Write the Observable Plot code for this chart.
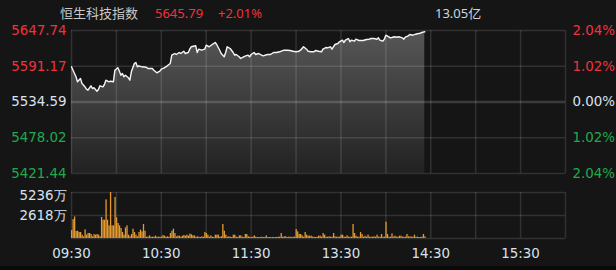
<!DOCTYPE html>
<html><head><meta charset="utf-8">
<script src="https://cdn.jsdelivr.net/npm/d3@7"></script>
<script src="https://cdn.jsdelivr.net/npm/@observablehq/plot@0.6"></script>
<style>
html,body{margin:0;padding:0;background:#151515;}
#wrap{position:relative;width:616px;height:270px;overflow:hidden;background:#151515;}
.hdr{position:absolute;top:3px;font-size:13px;font-family:"Noto Sans","Noto Sans CJK SC",sans-serif;white-space:nowrap;line-height:20px;}
#price,#vol{position:absolute;left:0;}
#price{top:0;}
#vol{top:180px;}
#bottom{position:absolute;left:0;top:266px;width:616px;height:4px;background:#0a0a0a;}
svg{overflow:visible;}
</style></head><body>
<div id="wrap">
  <div class="hdr" id="hName" style="left:60px;color:#c9c9c9"></div>
  <div class="hdr" id="hPrice" style="left:155px;color:#f0323c"></div>
  <div class="hdr" id="hChg" style="left:218px;color:#f0323c"></div>
  <div class="hdr" id="hTurn" style="left:435px;color:#cfd6de"></div>
  <div id="price"></div>
  <div id="vol"></div>
  <div id="bottom"></div>
</div>
<script>
// ---- data ----
const indexName = "恒生科技指数";
const lastPrice = "5645.79";
const changePct = "+2.01%";
const turnover = "13.05亿";
const prevClose = 5534.59;
const priceTicks = [5647.74, 5591.17, 5534.59, 5478.02, 5421.44];
const pctLabels = ["2.04%", "1.02%", "0.00%", "1.02%", "2.04%"];
const timeTicks = [0, 60, 120, 180, 240, 300];
const timeLabels = ["09:30", "10:30", "11:30", "13:30", "14:30", "15:30"];
const gridMinutes = [0, 30, 60, 90, 120, 150, 180, 210, 240, 270, 300, 330];
const volTicks = [5236, 2618];
const volLabels = ["5236万", "2618万"];

// trading minute since 09:30 (lunch break removed)
const minutes = [
  0,1,3,4,6,7,9,10,11,13,
  14,15,17,18,19,21,22,23,25,26,
  28,29,31,32,33,34,35,36,38,39,
  40,42,43,44,45,47,50,51,54,55,
  57,59,60,62,64,66,67,69,70,72,
  73,75,76,78,79,80,83,84,85,87,
  89,90,92,94,96,97,99,100,102,103,
  104,106,108,109,110,112,113,115,116,118,
  119,120,122,123,125,127,128,131,133,135,
  137,139,142,144,146,148,150,152,153,155,
  157,158,160,162,163,165,167,168,170,171,
  173,174,175,176,178,179,181,182,183,185,
  186,187,189,190,192,194,195,197,199,200,
  202,204,205,206,208,209,210,212,213,214,
  216,217,219,221,222,223,225,226,228,230,
  231,233,234,235,236
];
const prices = [
  5590.30,5584.91,5574.47,5566.56,5571.78,5563.87,5558.64,5554.85,5553.26,5560.23,
  5555.95,5557.06,5551.68,5554.37,5560.23,5558.64,5562.28,5569.09,5566.56,5567.51,
  5566.56,5584.91,5588.71,5583.33,5577.00,5579.69,5574.47,5577.00,5572.89,5569.09,
  5582.38,5595.52,5597.10,5590.30,5591.88,5590.30,5589.66,5587.60,5587.60,5584.91,
  5580.80,5583.33,5586.50,5588.71,5591.88,5595.52,5608.65,5611.34,5609.76,5612.92,
  5611.34,5614.98,5611.34,5612.92,5618.15,5621.95,5623.53,5612.92,5618.15,5616.56,
  5618.15,5624.48,5621.95,5625.58,5628.75,5625.58,5616.56,5611.34,5606.12,5612.92,
  5621.95,5619.25,5612.92,5608.65,5609.76,5606.12,5603.43,5606.12,5607.07,5608.65,
  5606.12,5609.76,5612.92,5609.76,5611.34,5608.65,5607.70,5609.76,5609.76,5612.92,
  5612.92,5614.03,5616.56,5616.56,5616.09,5614.98,5614.03,5614.98,5616.56,5621.95,
  5618.15,5614.98,5614.03,5614.03,5616.09,5614.98,5614.03,5618.15,5620.84,5620.36,
  5621.95,5618.15,5621.95,5625.58,5627.17,5629.86,5632.39,5628.75,5632.39,5635.08,
  5629.86,5632.39,5630.81,5633.97,5631.91,5631.91,5631.91,5633.50,5633.97,5635.08,
  5635.08,5633.97,5636.19,5632.39,5630.81,5633.97,5640.30,5637.77,5636.19,5636.66,
  5637.77,5637.14,5637.77,5636.19,5633.97,5637.14,5639.35,5641.41,5640.30,5641.88,
  5642.52,5643.47,5644.57,5645.20,5645.79
];
// per-minute volume (万), minute 0..236
const volumes = [
  900,2150,2450,800,830,680,680,380,190,985,
  380,570,570,455,190,455,380,455,380,190,
  2390,2085,2085,4400,2085,1440,5236,1440,1440,4660,
  2350,1700,1440,1140,680,380,1210,1440,380,190,
  455,1060,680,380,190,680,950,760,1590,830,
  150,150,300,150,150,150,265,150,150,150,
  150,340,265,150,190,150,570,830,1060,570,
  190,265,265,150,265,340,265,380,265,500,
  420,300,300,150,190,150,115,190,150,680,
  570,380,150,300,150,115,380,380,380,150,
  190,1590,830,380,150,190,150,115,380,380,
  150,115,300,300,150,115,455,455,190,150,
  115,150,300,150,115,115,115,150,115,115,
  300,115,115,115,115,115,115,115,150,150,
  570,150,190,190,115,150,150,115,150,150,
  1020,760,455,455,300,150,680,380,265,265,
  265,150,150,115,150,265,265,150,570,380,
  150,150,190,150,150,570,190,150,150,150,
  380,380,150,150,300,150,150,150,1590,570,
  265,150,150,680,455,150,265,150,380,150,
  150,150,190,150,380,150,150,455,150,150,
  1850,455,150,150,530,150,265,150,150,265,
  265,150,150,150,455,190,190,150,150,380,
  150,150,115,115,150,455,190
];

// ---- styles ----
const UP = "#f0323c", DOWN = "#1fab4c", FLAT = "#d8e3ee";
const GRID = "rgba(255,255,255,0.12)";
const AXFONT = "DejaVu Sans";
const AXSIZE = 13.4;
const W = 616, ML = 71, MR = 51;
const priceColor = d => d > prevClose ? UP : d < prevClose ? DOWN : FLAT;

document.getElementById("hName").textContent = indexName;
document.getElementById("hPrice").textContent = lastPrice;
document.getElementById("hChg").textContent = changePct;
document.getElementById("hTurn").textContent = turnover;

const priceData = minutes.map((t, i) => ({t, p: prices[i]}));
const volData = volumes.map((v, t) => ({t, v}));

const gradDefs = () => {
  const defs = document.createElementNS("http://www.w3.org/2000/svg", "defs");
  defs.innerHTML = '<linearGradient id="areaGrad" gradientUnits="userSpaceOnUse" x1="0" y1="30" x2="0" y2="173">' +
    '<stop offset="0" stop-color="#575757"/><stop offset="1" stop-color="#222222"/></linearGradient>';
  return defs;
};

const pricePlot = Plot.plot({
  width: W, height: 180,
  marginLeft: ML, marginRight: MR, marginTop: 30, marginBottom: 7,
  style: {background: "transparent", overflow: "visible"},
  x: {domain: [0, 330], axis: null},
  y: {domain: [priceTicks[4], priceTicks[0]], axis: null},
  color: {type: "identity"},
  marks: [
    gradDefs,
    Plot.areaY(priceData, {x: "t", y1: priceTicks[4], y2: "p", fill: "url(#areaGrad)"}),
    Plot.ruleX(gridMinutes, {stroke: GRID, strokeWidth: 1.5}),
    Plot.ruleY(priceTicks.filter(d => d !== prevClose), {stroke: GRID, strokeWidth: 1.5}),
    Plot.ruleY([prevClose], {stroke: "rgba(255,255,255,0.16)", strokeWidth: 2.5}),
    Plot.line(priceData, {x: "t", y: "p", stroke: "#f4f4f4", strokeWidth: 1.4}),
    Plot.text(priceTicks, {x: 0, y: d => d, text: d => d.toFixed(2), textAnchor: "end", dx: -5,
      fill: priceColor, fontSize: AXSIZE, fontFamily: AXFONT}),
    Plot.text(priceTicks, {x: 330, y: d => d, text: (d, i) => pctLabels[i], textAnchor: "start", dx: 7,
      fill: priceColor, fontSize: AXSIZE, fontFamily: AXFONT})
  ]
});
document.getElementById("price").appendChild(pricePlot);

const volPlot = Plot.plot({
  width: W, height: 90,
  marginLeft: ML, marginRight: MR, marginTop: 12, marginBottom: 32,
  style: {background: "transparent", overflow: "visible"},
  x: {domain: [0, 330], axis: null},
  y: {domain: [0, volTicks[0]], axis: null},
  marks: [
    Plot.ruleX(gridMinutes, {stroke: GRID, strokeWidth: 1.5}),
    Plot.ruleY([0, volTicks[1], volTicks[0]], {stroke: GRID, strokeWidth: 1.5}),
    Plot.rectY(volData, {x1: "t", x2: d => d.t + 1, y: "v", fill: "#e59a30", insetRight: 0.2}),
    Plot.text([volTicks[0]], {x: 0, y: d => d, text: () => volLabels[0], textAnchor: "end", dx: -5,
      dy: 3, fill: FLAT, fontSize: AXSIZE, fontFamily: AXFONT}),
    Plot.text([volTicks[1]], {x: 0, y: d => d, text: () => volLabels[1], textAnchor: "end", dx: -5,
      fill: FLAT, fontSize: AXSIZE, fontFamily: AXFONT}),
    Plot.text(timeTicks, {x: d => d, y: 0, text: (d, i) => timeLabels[i], dy: 15,
      fill: FLAT, fontSize: AXSIZE, fontFamily: AXFONT})
  ]
});
document.getElementById("vol").appendChild(volPlot);
</script>
</body></html>
